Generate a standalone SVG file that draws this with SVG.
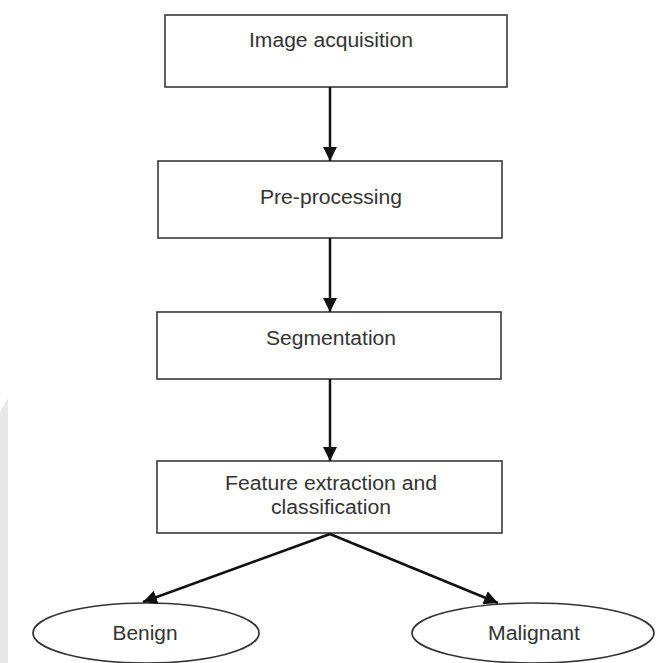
<svg xmlns="http://www.w3.org/2000/svg" width="659" height="663" viewBox="0 0 659 663">
  <style>
    .box { fill: #ffffff; stroke: #3a3a3a; stroke-width: 1.6; }
    .ell { fill: #ffffff; stroke: #333333; stroke-width: 1.7; }
    .lbl { font-family: "Liberation Sans", Arial, sans-serif; font-size: 19.5px; fill: #333333; text-anchor: middle; }
    .conn { stroke: #111111; stroke-width: 2.5; fill: none; marker-end: url(#arrow); }
  </style>
  <defs>
    <marker id="arrow" viewBox="0 0 12 12" refX="12" refY="6" markerUnits="userSpaceOnUse" markerWidth="14" markerHeight="15" orient="auto">
      <path d="M0,0 L12,6 L0,12 z" fill="#111111"/>
    </marker>
  </defs>
  <rect width="659" height="663" fill="#ffffff"/>
  <polygon points="0,412 8,398 8,663 0,663" fill="#e8e8e8"/>

  <g id="node-image-acquisition">
    <rect class="box" x="165" y="15" width="342" height="72"/>
    <text class="lbl" x="331" y="47" textLength="164" lengthAdjust="spacingAndGlyphs">Image acquisition</text>
  </g>
  <g id="node-pre-processing">
    <rect class="box" x="158" y="161" width="344" height="77"/>
    <text class="lbl" x="331" y="204" textLength="142" lengthAdjust="spacingAndGlyphs">Pre-processing</text>
  </g>
  <g id="node-segmentation">
    <rect class="box" x="157" y="312" width="344" height="67"/>
    <text class="lbl" x="331" y="345" textLength="130" lengthAdjust="spacingAndGlyphs">Segmentation</text>
  </g>
  <g id="node-feature-extraction">
    <rect class="box" x="157" y="461" width="345" height="72"/>
    <text class="lbl" x="331" y="490" textLength="212" lengthAdjust="spacingAndGlyphs">Feature extraction and</text>
    <text class="lbl" x="331" y="514" textLength="120" lengthAdjust="spacingAndGlyphs">classification</text>
  </g>
  <g id="node-benign">
    <ellipse class="ell" cx="146" cy="633" rx="113" ry="30"/>
    <text class="lbl" x="145" y="640" textLength="65" lengthAdjust="spacingAndGlyphs">Benign</text>
  </g>
  <g id="node-malignant">
    <ellipse class="ell" cx="533" cy="633" rx="121" ry="30"/>
    <text class="lbl" x="534" y="640" textLength="92" lengthAdjust="spacingAndGlyphs">Malignant</text>
  </g>

  <g id="connectors">
    <line class="conn" x1="330" y1="87" x2="330" y2="161"/>
    <line class="conn" x1="330" y1="238" x2="330" y2="312"/>
    <line class="conn" x1="330" y1="379" x2="330" y2="461"/>
    <line class="conn" x1="330" y1="534" x2="143" y2="602"/>
    <line class="conn" x1="330" y1="534" x2="498" y2="603"/>
  </g>
</svg>
